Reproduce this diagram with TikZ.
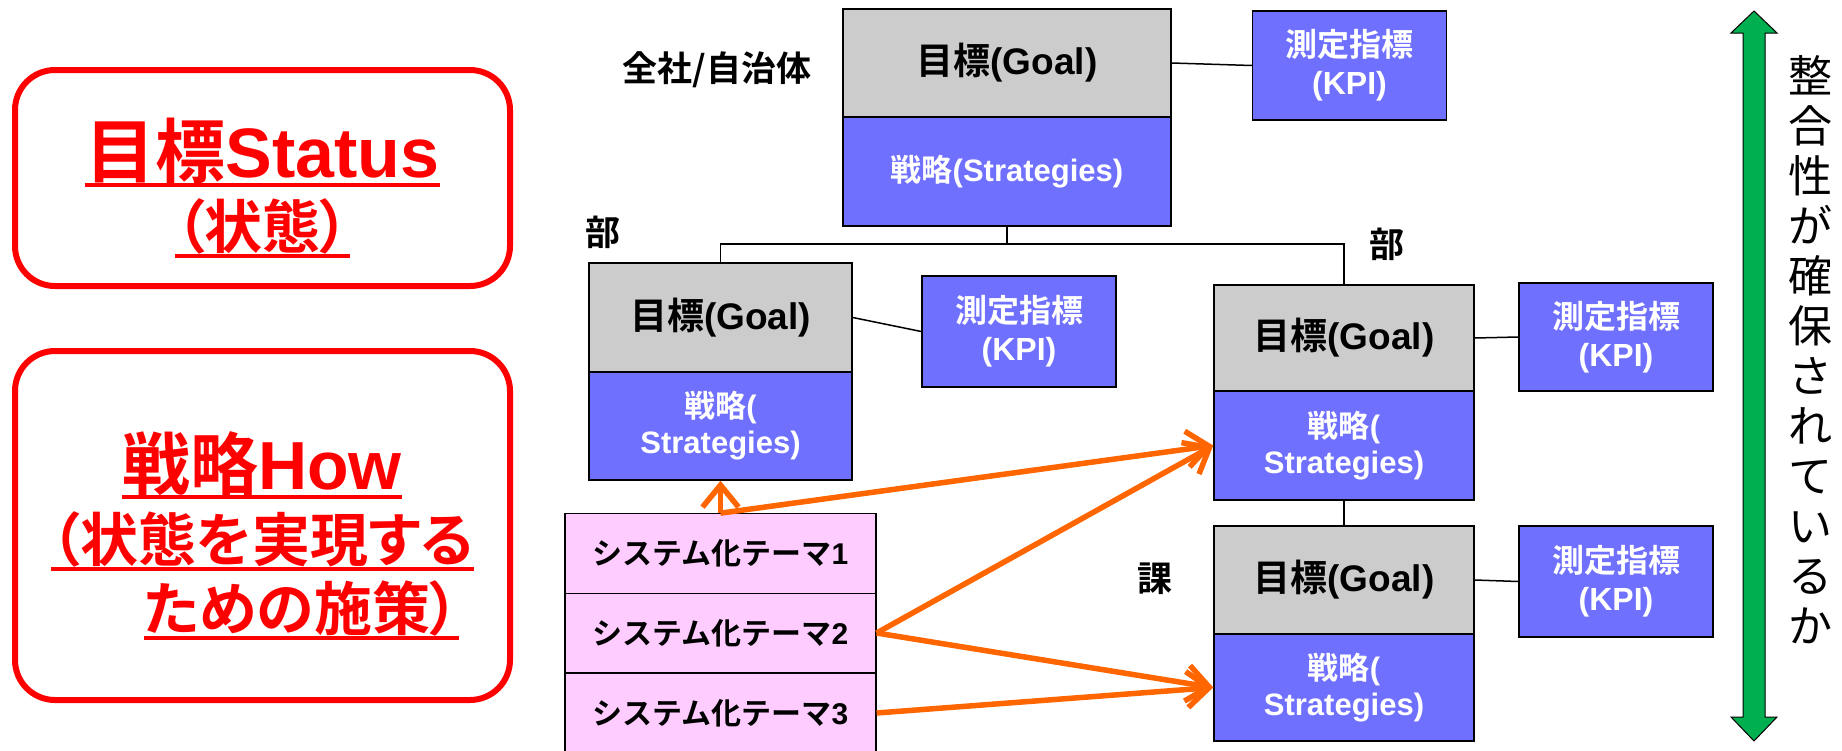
\documentclass[tikz,border=0pt]{standalone}
\usepackage{fontspec}
\setmainfont{Liberation Sans}
\newfontfamily\jp{Noto Sans CJK JP}[BoldFont={Noto Sans CJK JP Bold}]
\newfontfamily\jpp{Noto Sans CJK JP}[BoldFont={Noto Sans CJK JP Bold},RawFeature=+palt]
\usetikzlibrary{arrows.meta}
\definecolor{goalgray}{HTML}{CCCCCC}
\definecolor{stratblue}{HTML}{7070FF}
\definecolor{themepink}{HTML}{FFCCFF}
\definecolor{arroworange}{HTML}{FF6600}
\definecolor{aligngreen}{HTML}{00B050}
\begin{document}
\begin{tikzpicture}[x=1pt,y=-1pt,
  goalbox/.style={draw=black, line width=1.5pt, fill=goalgray, inner sep=0pt, font=\bfseries\fontsize{37}{40}\selectfont},
  stratbox/.style={draw=black, line width=1.5pt, fill=stratblue, text=white, inner sep=0pt, align=center, font=\bfseries\fontsize{31}{36}\selectfont},
  kpibox/.style={draw=black, line width=1.5pt, fill=stratblue, text=white, inner sep=0pt, align=center, minimum width=194pt, font=\bfseries\fontsize{32}{38}\selectfont},
  themebox/.style={draw=black, line width=1.2pt, fill=themepink, inner sep=0pt, minimum width=311pt, minimum height=79.5pt, font=\bfseries\fontsize{30}{32}\selectfont},
  lvl/.style={inner sep=0pt, font=\bfseries\fontsize{35}{40}\selectfont},
  conn/.style={line width=1.5pt, draw=black},
  orangearrow/.style={draw=arroworange, line width=5.5pt, -{Straight Barb[length=22pt,width=36pt]}},
  redbox/.style={draw=red, line width=6pt, rounded corners=40pt},
  heading/.style={text=red, inner sep=0pt, anchor=base, font=\bfseries\fontsize{70}{74}\selectfont},
  subhead/.style={text=red, inner sep=0pt, anchor=base, font=\bfseries\fontsize{58}{60}\selectfont},
  uline/.style={draw=red, line width=4pt},
]
\useasboundingbox (0,0) rectangle (1842,750);

% left red boxes
\draw[redbox] (15,70) rectangle (510,286);
\draw[redbox] (15,351) rectangle (510,700);

\node[heading] (h1) at (262.5,177) {{\jp 目標}Status};
\draw[uline] ([yshift=-8pt]h1.base west) -- ([yshift=-8pt]h1.base east);
\node[subhead] (h2) at (262.5,248) {\jpp （状態）};
\draw[uline] ([yshift=-8pt]h2.base west) -- ([yshift=-8pt]h2.base east);
\node[heading, font=\bfseries\fontsize{68}{72}\selectfont] (h3) at (262,489) {{\jp 戦略}How};
\draw[uline] ([yshift=-8pt]h3.base west) -- ([yshift=-8pt]h3.base east);
\node[subhead] (h4) at (262.5,561) {\jpp （状態を実現する};
\draw[uline] ([yshift=-8pt]h4.base west) -- ([yshift=-8pt]h4.base east);
\node[subhead] (h5) at (301.5,630) {\jpp ための施策）};
\draw[uline] ([yshift=-8pt]h5.base west) -- ([yshift=-8pt]h5.base east);

% level labels
\node[lvl] (l0) at (717,70) {\jp 全社/自治体};
\node[lvl] (l1) at (603,232) {\jp 部};
\node[lvl] (l2) at (1387,244) {\jp 部};
\node[lvl] (l3) at (1155,579) {\jp 課};

% top
\node[goalbox, minimum width=328pt, minimum height=108pt] (tg) at (1007,63) {{\jp 目標}(Goal)};
\node[stratbox, minimum width=328pt, minimum height=109pt] (ts) at (1007,171.5) {{\jp 戦略}(Strategies)};
\node[kpibox, minimum height=109pt] (tk) at (1349.5,65.5) {{\jp 測定指標}\\(KPI)};

% left 部
\node[goalbox, minimum width=263pt, minimum height=109pt] (lg) at (720.5,317.5) {{\jp 目標}(Goal)};
\node[stratbox, minimum width=263pt, minimum height=108pt] (ls) at (720.5,426) {{\jp 戦略}(\\Strategies)};
\node[kpibox, minimum height=111pt] (lk) at (1019,331.5) {{\jp 測定指標}\\(KPI)};

% right 部
\node[goalbox, minimum width=260pt, minimum height=106pt] (rg) at (1344,338) {{\jp 目標}(Goal)};
\node[stratbox, minimum width=260pt, minimum height=109pt] (rs) at (1344,445.5) {{\jp 戦略}(\\Strategies)};
\node[kpibox, minimum height=108pt] (rk) at (1616,337) {{\jp 測定指標}\\(KPI)};

% 課
\node[goalbox, minimum width=260pt, minimum height=108pt] (kg) at (1344,580) {{\jp 目標}(Goal)};
\node[stratbox, minimum width=260pt, minimum height=107pt] (ks) at (1344,687.5) {{\jp 戦略}(\\Strategies)};
\node[kpibox, minimum height=111pt] (kk) at (1616,581.5) {{\jp 測定指標}\\(KPI)};

% themes
\node[themebox] (t1) at (720.5,553.5) {{\jp システム化テーマ}1};
\node[themebox] (t2) at (720.5,633) {{\jp システム化テーマ}2};
\node[themebox] (t3) at (720.5,713) {{\jp システム化テーマ}3};

% connectors
\draw[conn] (tg.east) -- (tk.west);
\draw[conn] (ts.south) -- ++(0,17) coordinate (j);
\draw[conn] (j) -| (lg.north);
\draw[conn] (j) -| (rg.north);
\draw[conn] (lg.east) -- (lk.west);
\draw[conn] (rg.east) -- (rk.west);
\draw[conn] (rs.south) -- (kg.north);
\draw[conn] (kg.east) -- (kk.west);

% orange arrows
\draw[orangearrow] (t1.north) -- (ls.south);
\draw[orangearrow] (t1.north) -- (rs.west);
\draw[orangearrow] (t2.east) -- (rs.west);
\draw[orangearrow] (t2.east) -- (ks.west);
\draw[orangearrow] (t3.east) -- (ks.west);

% green double arrow
\draw[fill=aligngreen, draw=black, line width=1pt] (1754,11) -- (1777,33) -- (1765,33) -- (1765,717) -- (1777,717) -- (1754,741) -- (1731,717) -- (1743,717) -- (1743,33) -- (1731,33) -- cycle;
\node[align=center, inner sep=0pt, font=\jp\fontsize{44}{50}\selectfont] (vt) at (1810,350) {整\\合\\性\\が\\確\\保\\さ\\れ\\て\\い\\る\\か};
\end{tikzpicture}
\end{document}
